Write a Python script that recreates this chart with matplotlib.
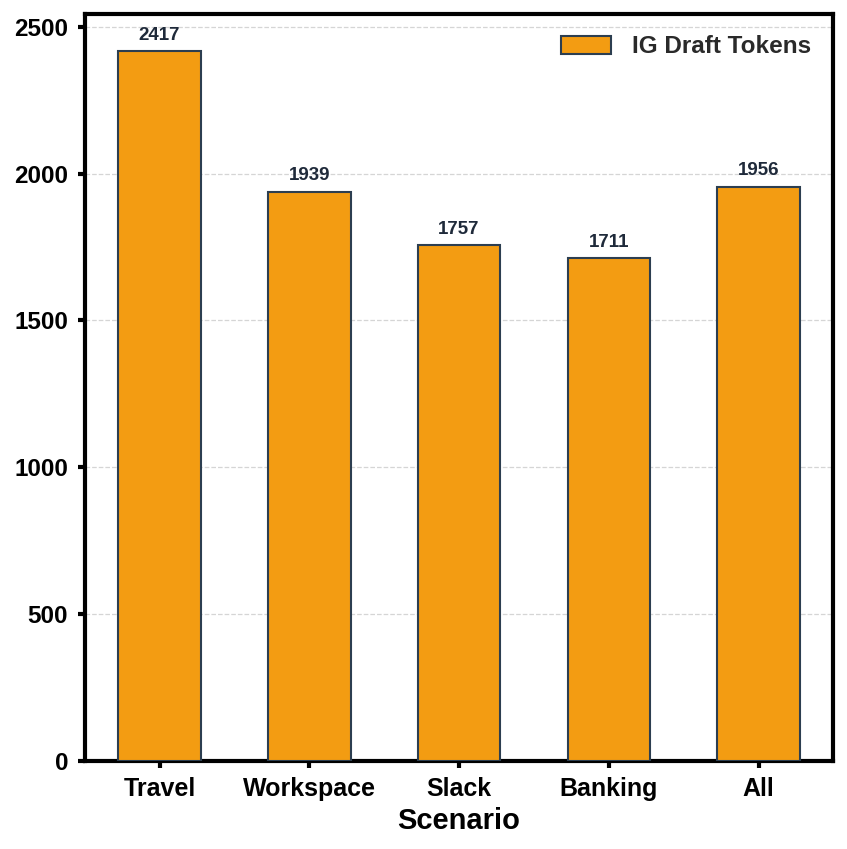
import matplotlib
matplotlib.use("Agg")
import matplotlib.pyplot as plt
import numpy as np

plt.rcParams['font.family'] = ['Liberation Sans', 'DejaVu Sans']

scenarios = ["Travel", "Workspace", "Slack", "Banking", "All"]
draft_tokens = [2417, 1939, 1757, 1711, 1956]

fig, ax = plt.subplots(figsize=(8.47, 8.49), dpi=100)

x = np.arange(len(scenarios))
bars = ax.bar(x, draft_tokens, width=0.55, color="#f39c12", edgecolor="#2c3e50",
              linewidth=1.5, label="IG Draft Tokens", zorder=3)

for b, v in zip(bars, draft_tokens):
    ax.text(b.get_x() + b.get_width() / 2, v + 25, str(v), ha="center", va="bottom",
            fontsize=13.5, fontweight="bold", color="#1f2a3a")

ax.set_xticks(x)
ax.set_xticklabels(scenarios, fontsize=18, fontweight="bold")
ax.set_xlim(-0.5, 4.5)
ax.set_ylim(0, max(draft_tokens) * 1.053)
ax.set_yticks([0, 500, 1000, 1500, 2000, 2500])
for lab in ax.get_yticklabels():
    lab.set_fontsize(17.5)
    lab.set_fontweight("bold")
ax.set_xlabel("Scenario", fontsize=21, fontweight="bold", labelpad=4)

ax.grid(axis="y", linestyle="--", color="#d5d5d5", linewidth=0.9, zorder=0)
for s in ax.spines.values():
    s.set_linewidth(3)
ax.tick_params(width=3, length=5)
ax.tick_params(axis="x", pad=7)
ax.tick_params(axis="y", pad=7)

leg = ax.legend(frameon=False, prop={"weight": "bold", "size": 17.5},
                loc="upper right", handlelength=2.05, handleheight=0.8,
                handletextpad=0.9, borderaxespad=0.5)
for t in leg.get_texts():
    t.set_color("#2a2a2a")

fig.subplots_adjust(left=0.1, right=0.984, top=0.984, bottom=0.104)
fig.savefig("out.png", dpi=100)
